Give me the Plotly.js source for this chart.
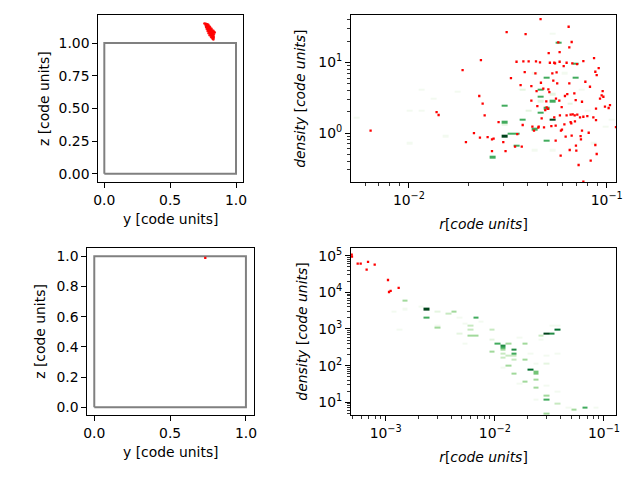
<!DOCTYPE html>
<html>
<head>
<meta charset="utf-8">
<script src="https://cdn.plot.ly/plotly-3.0.1.min.js"></script>
<style>html,body{margin:0;padding:0;background:#fff;}#plot{width:640px;height:480px;}</style>
</head>
<body>
<div id="plot"></div>
<script>
// ---------- data ----------
// box of the simulation domain (y,z)
const boxY = [0, 1, 1, 0, 0];
const boxZ = [0, 0, 1, 1, 0];

// top-left: particle cluster (y, z)
const tlY = [0.760,0.768,0.775,0.782,0.790, 0.770,0.778,0.786,0.794,0.802, 0.774,0.782,0.790,0.798,0.806,0.814,
  0.780,0.788,0.796,0.804,0.812,0.820,0.828, 0.786,0.794,0.802,0.810,0.818,0.826,0.834,
  0.792,0.800,0.808,0.816,0.824,0.832,0.838, 0.800,0.808,0.816,0.824,0.830, 0.812,0.820,0.826,0.822,0.828,0.830];
const tlZ = [1.150,1.148,1.146,1.144,1.140, 1.135,1.133,1.130,1.128,1.125, 1.120,1.118,1.116,1.114,1.112,1.110,
  1.105,1.103,1.101,1.099,1.097,1.095,1.093, 1.090,1.088,1.086,1.084,1.082,1.080,1.085,
  1.075,1.073,1.071,1.069,1.067,1.065,1.080, 1.060,1.058,1.056,1.054,1.050, 1.045,1.042,1.038,1.033,1.028,1.040];
const tlBlueY = [0.772, 0.790];
const tlBlueZ = [1.125, 1.100];

// bottom-left: single particle
const blY = [0.732];
const blZ = [0.989];

// top-right: particles (r, density)
const trR = [0.00640,0.01380,0.01413,0.01868,0.01942,0.02132,0.02268,0.02286,0.02312,0.02359,0.02415,0.0250,0.0263,0.0268,0.0284,0.0300,0.0312,0.0308,0.0263,0.0328,
  0.0350,0.0353,0.0367,0.0376,0.0379,0.0385,0.0389,0.0403,0.0344,0.0372,0.0416,0.0416,0.0421,0.0429,0.0436,0.0439,0.0442,0.0446,0.0451,0.0453,
  0.0460,0.0463,0.0465,0.0469,0.0478,0.0482,0.0489,0.0495,0.0497,0.0505,0.0507,0.0509,0.0513,0.0516,0.0525,0.0531,0.0537,0.0543,0.0543,0.0548,
  0.0552,0.0552,0.0554,0.0558,0.0562,0.0569,0.0576,0.0578,0.0578,0.0580,0.0585,0.0587,0.0594,0.0592,0.0606,0.0611,0.0615,0.0620,0.0627,0.0627,
  0.0632,0.0642,0.0647,0.0647,0.0650,0.0657,0.0657,0.0662,0.0665,0.0665,0.0670,0.0673,0.0686,0.0689,0.0691,0.0697,0.0699,0.0702,0.0708,0.0710,
  0.0721,0.0733,0.0738,0.0741,0.0750,0.0750,0.0762,0.0762,0.0762,0.0780,0.0798,0.0811,0.0823,0.0830,0.0856,0.0876,0.0883,0.0883,0.0890,0.0863,
  0.0876,0.0890,0.0911,0.0925,0.0943,0.0954,0.0962,0.0980,0.1023,0.1039,0.1114];
const trD = [1.079,1.98,1.80,7.78,0.746,1.0,3.34,0.859,10.78,2.60,1.778,0.878,0.814,0.832,1.431,0.746,26.8,0.556,0.556,6.00,
  10.2,0.968,4.77,1.30,10.3,7.29,25.1,10.3,0.641,0.641,2.87,4.62,1.229,1.079,6.98,10.3,3.93,2.41,1.19,1.229,
  10.0,40.9,5.15,1.61,4.24,1.203,2.115,2.805,2.307,2.2,4.15,13.5,3.80,9.88,1.256,6.98,5.50,9.88,1.666,9.67,
  1.27,0.779,3.06,7.21,5.04,19.2,2.87,14.0,10.2,1.778,0.478,1.079,1.115,2.33,8.87,1.326,3.34,0.887,9.88,1.778,
  3.56,31.9,16.3,5.04,0.575,1.816,1.431,1.37,19.4,0.917,9.67,1.836,3.64,1.778,1.462,2.93,0.662,0.562,9.46,1.816,
  0.353,1.666,0.907,0.814,2.77,1.079,0.205,10.4,1.70,5.32,1.74,1.01,4.52,0.406,1.666,0.677,1.527,2.21,0.505,11.5,
  7.37,6.61,8.30,3.06,3.41,3.93,3.26,2.36,2.26,2.49,1.216];

// top-right: 2D histogram cells (r, density, colour level 1..9)
const trCellR = [0.0576,0.070,0.0509,0.070,0.0477,0.045,0.054,0.0509,0.0307,0.0477,0.037,0.054,0.0307,0.0446,0.0359,0.0335,0.0307,0.0509,0.035,0.0271,
  0.01127,0.0138,0.00992,0.01137,0.0173,0.00992,0.0155,0.00529,0.0364,0.0394,0.0537,0.0733,0.0792,0.0962,0.0312,0.0426,0.0537,0.0856,0.0652,0.0460,0.108,0.0516,0.0604,0.0426];
const trCellD = [19.2,9.5,6.05,6.05,4.24,3.41,2.77,2.21,2.36,1.92,1.54,1.54,1.43,1.15,1.0,1.0,0.927,0.80,0.65,0.448,
  4.19,3.09,2.11,2.11,3.72,0.699,0.888,1.67,4.06,2.11,3.64,4.06,2.11,1.23,1.37,0.575,0.575,0.714,2.63,2.93,1.53,25.7,6.98,6.98];
const trCellLevel = [6,6,6,6,6,6,6,6,6,6,6,9,6,6,6,6,9,6,6,6,
  1,1,1,1,1,1,1,1,2,2,2,1,1,1,2,1,1,1,2,2,1,1,1,1];

// bottom-right: particles (r, density)
const brR = [0.000488,0.000491,0.000554,0.000590,0.000669,0.000689,0.000793,0.00105,0.001073,0.00111,0.001315];
const brD = [106700,94200,60700,60700,41600,67300,56900,21700,10200,10900,13150];

// bottom-right: 2D histogram cells (r, density, colour level 1..9)
const brCellR = [0.00142,0.002507,0.002507,0.002828,0.003565,0.00402,0.00626,0.00626,0.00705,0.00705,0.00564,0.00981,0.01114,0.01245,0.01245,0.01245,0.01245,0.01245,
  0.01396,0.01396,0.0157,0.0157,0.0157,0.0157,0.01396,0.0157,0.01968,0.01968,0.00896,0.0220,0.02444,0.02444,0.02444,0.01968,0.02444,0.0277,0.0313,0.0353,0.0392,
  0.0313,0.0313,0.0389,0.0553,0.0687,0.0313,
  0.00156,0.00206,0.00314,0.00447,0.00514,0.00314,0.00135,0.001135,0.00447,0.00552,0.00731,0.00901,0.0170,0.0209,0.0241,0.0298,0.0298,0.0368,0.0381,0.0455,0.0796,
  0.0170,0.0225,0.01194,0.0394,0.0298,0.0259,0.0343];
const brCellD = [5810,3670,2030,1156,2565,2965,1310,940,2030,656,656,1045,415,373,329,267,212,169,
  423,183,267,212,183,152,106,60.3,423,152,236,82.6,72.8,60,43.3,38.8,24.1,656,731,731,940,
  15.8,11.1,8.6,6.28,6.86,4.89,
  3670,3800,2965,2170,1432,1285,1045,2965,764,407,1580,501,617,217,116,116,29.6,217,19.5,6.86,6.86,
  33,11.6,93.6,1285,195,501,1285];
const brCellLevel = [4,9,6,4,3,4,3,3,6,4,4,3,6,7,6,4,3,3,
  4,3,7,6,3,3,4,4,4,4,4,8,5,5,4,4,4,3,9,7,8,
  4,6,3,4,6,4,
  1,1,2,1,1,1,1,1,2,1,1,2,1,1,1,2,1,1,1,1,1,
  1,1,1,1,1,1,1];

// tick labels
const xTicksLin = [0, 0.5, 1];
const xTickTextLin = ['0.0', '0.5', '1.0'];
const tlZTicks = [0, 0.25, 0.5, 0.75, 1];
const tlZTickText = ['0.00', '0.25', '0.50', '0.75', '1.00'];
const blZTicks = [0, 0.2, 0.4, 0.6, 0.8, 1];
const blZTickText = ['0.0', '0.2', '0.4', '0.6', '0.8', '1.0'];
const trXTicks = [0.01, 0.1];
const trXTickText = ['10<sup>\u22122</sup>', '10<sup>\u22121</sup>'];
const trYTicks = [1, 10];
const trYTickText = ['10<sup>0</sup>', '10<sup>1</sup>'];
const brXTicks = [0.001, 0.01, 0.1];
const brXTickText = ['10<sup>\u22123</sup>', '10<sup>\u22122</sup>', '10<sup>\u22121</sup>'];
const brYTicks = [10, 100, 1000, 10000, 100000];
const brYTickText = ['10<sup>1</sup>', '10<sup>2</sup>', '10<sup>3</sup>', '10<sup>4</sup>', '10<sup>5</sup>'];

// ---------- helpers ----------
const greens = [[0,'#f3faf0'],[0.125,'#e5f5e0'],[0.25,'#c7e9c0'],[0.375,'#a1d99b'],[0.5,'#74c476'],
  [0.625,'#41ab5d'],[0.75,'#238b45'],[0.875,'#006d2c'],[1,'#00441b']];

function buildGrid(cr, cd, cl, x0, x1, dx, y0, y1, dy) {
  const nx = Math.round((x1 - x0) / dx), ny = Math.round((y1 - y0) / dy);
  const xe = [], ye = [];
  for (let i = 0; i <= nx; i++) xe.push(Math.pow(10, x0 + i * dx));
  for (let j = 0; j <= ny; j++) ye.push(Math.pow(10, y0 + j * dy));
  const z = [];
  for (let j = 0; j < ny; j++) { const row = []; for (let i = 0; i < nx; i++) row.push(null); z.push(row); }
  for (let k = 0; k < cr.length; k++) {
    const i = Math.floor((Math.log10(cr[k]) - x0) / dx);
    const j = Math.floor((Math.log10(cd[k]) - y0) / dy);
    if (i >= 0 && i < nx && j >= 0 && j < ny) z[j][i] = cl[k];
  }
  return {xe, ye, z};
}
function minorLog(lo, hi) {
  const v = [];
  for (let e = lo; e <= hi; e++) for (let m = 2; m <= 9; m++) v.push(m * Math.pow(10, e));
  return v;
}

const trGrid = buildGrid(trCellR, trCellD, trCellLevel, -2.31, -0.93, 0.03, -0.72, 1.68, 0.033);
const brGrid = buildGrid(brCellR, brCellD, brCellLevel, -3.35, -0.85, 0.05, 0.6, 5.25, 0.055);

const FONT = 'DejaVu Sans, sans-serif';
const tickFont = {family: FONT, size: 13.9, color: '#000'};
const titleFont = {family: FONT, size: 13.9, color: '#000'};

function baseAxis(extra) {
  return Object.assign({
    showline: true, linecolor: '#000', linewidth: 1, mirror: true,
    ticks: 'outside', ticklen: 5, tickwidth: 1, tickcolor: '#000',
    showgrid: false, zeroline: false, tickfont: tickFont, automargin: false
  }, extra);
}

const traces = [
  // top-left
  {type: 'scatter', mode: 'lines', x: boxY, y: boxZ, xaxis: 'x', yaxis: 'y',
   line: {color: '#808080', width: 2}, hoverinfo: 'skip'},
  {type: 'scatter', mode: 'markers', x: tlBlueY, y: tlBlueZ, xaxis: 'x', yaxis: 'y',
   marker: {color: '#1f77b4', size: 2.2}, hoverinfo: 'skip'},
  {type: 'scatter', mode: 'markers', x: tlY, y: tlZ, xaxis: 'x', yaxis: 'y',
   marker: {color: 'red', size: 2.6, opacity: 0.9}, hoverinfo: 'skip'},
  // top-right
  {type: 'heatmap', x: trGrid.xe, y: trGrid.ye, z: trGrid.z, xaxis: 'x2', yaxis: 'y2',
   colorscale: greens, zmin: 1, zmax: 9, showscale: false, hoverinfo: 'skip'},
  {type: 'scatter', mode: 'markers', x: trR, y: trD, xaxis: 'x2', yaxis: 'y2',
   marker: {color: 'red', size: 2.3, symbol: 'square'}, hoverinfo: 'skip'},
  // bottom-left
  {type: 'scatter', mode: 'lines', x: boxY, y: boxZ, xaxis: 'x3', yaxis: 'y3',
   line: {color: '#808080', width: 2}, hoverinfo: 'skip'},
  {type: 'scatter', mode: 'markers', x: blY, y: blZ, xaxis: 'x3', yaxis: 'y3',
   marker: {color: 'red', size: 2.3, symbol: 'square'}, hoverinfo: 'skip'},
  // bottom-right
  {type: 'heatmap', x: brGrid.xe, y: brGrid.ye, z: brGrid.z, xaxis: 'x4', yaxis: 'y4',
   colorscale: greens, zmin: 1, zmax: 9, showscale: false, hoverinfo: 'skip'},
  {type: 'scatter', mode: 'markers', x: brR, y: brD, xaxis: 'x4', yaxis: 'y4',
   marker: {color: 'red', size: 2.3, symbol: 'square'}, hoverinfo: 'skip'}
];

const minorCfg = (vals) => ({tickmode: 'array', tickvals: vals, ticks: 'outside', ticklen: 3, tickwidth: 0.8, tickcolor: '#000', showgrid: false});

const layout = {
  width: 640, height: 480, margin: {l: 0, r: 0, t: 0, b: 0},
  paper_bgcolor: '#fff', plot_bgcolor: '#fff', showlegend: false,
  font: {family: FONT, color: '#000'},
  xaxis: baseAxis({domain: [0.1536, 0.3797], range: [-0.0456, 1.053], anchor: 'y',
    tickmode: 'array', tickvals: xTicksLin, ticktext: xTickTextLin,
    title: {text: 'y [code units]', font: titleFont, standoff: 7}}),
  yaxis: baseAxis({domain: [0.6208, 0.968], range: [-0.064, 1.212], anchor: 'x',
    tickmode: 'array', tickvals: tlZTicks, ticktext: tlZTickText,
    title: {text: 'z [code units]', font: titleFont, standoff: 5}}),
  xaxis2: baseAxis({domain: [0.5484, 0.9625], type: 'log', range: [-2.293, -0.953], anchor: 'y2',
    tickmode: 'array', tickvals: trXTicks, ticktext: trXTickText, minor: minorCfg(minorLog(-3, -1)),
    title: {text: '<i>r</i>[<i>code units</i>]', font: titleFont, standoff: 12}}),
  yaxis2: baseAxis({domain: [0.6208, 0.968], type: 'log', range: [-0.693, 1.665], anchor: 'x2',
    tickmode: 'array', tickvals: trYTicks, ticktext: trYTickText, minor: minorCfg(minorLog(-1, 1)),
    title: {text: '<i>density</i> [<i>code units</i>]', font: titleFont, standoff: 9}}),
  xaxis3: baseAxis({domain: [0.1364, 0.3973], range: [-0.046, 1.055], anchor: 'y3',
    tickmode: 'array', tickvals: xTicksLin, ticktext: xTickTextLin,
    title: {text: 'y [code units]', font: titleFont, standoff: 7}}),
  yaxis3: baseAxis({domain: [0.1348, 0.484], range: [-0.053, 1.057], anchor: 'x3',
    tickmode: 'array', tickvals: blZTicks, ticktext: blZTickText,
    title: {text: 'z [code units]', font: titleFont, standoff: 7}}),
  xaxis4: baseAxis({domain: [0.5484, 0.9625], type: 'log', range: [-3.318, -0.89], anchor: 'y4',
    tickmode: 'array', tickvals: brXTicks, ticktext: brXTickText, minor: minorCfg(minorLog(-4, -1)),
    title: {text: '<i>r</i>[<i>code units</i>]', font: titleFont, standoff: 12}}),
  yaxis4: baseAxis({domain: [0.1348, 0.484], type: 'log', range: [0.645, 5.218], anchor: 'x4',
    tickmode: 'array', tickvals: brYTicks, ticktext: brYTickText, minor: minorCfg(minorLog(0, 5)),
    title: {text: '<i>density</i> [<i>code units</i>]', font: titleFont, standoff: 7}})
};

Plotly.newPlot('plot', traces, layout, {staticPlot: true, displayModeBar: false});
</script>
</body>
</html>
